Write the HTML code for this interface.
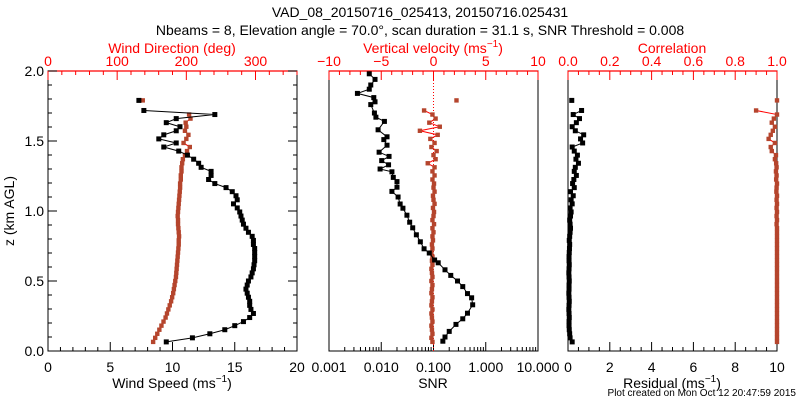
<!DOCTYPE html>
<html><head><meta charset="utf-8">
<style>
html,body{margin:0;padding:0;background:#fff;}
svg{display:block;font-family:"Liberation Sans",sans-serif;}
</style></head>
<body>
<svg id="chart" width="800" height="400" viewBox="0 0 800 400">
<text x="420" y="17" font-size="14" text-anchor="middle">VAD_08_20150716_025413, 20150716.025431</text>
<text x="420" y="35" font-size="14" text-anchor="middle">Nbeams = 8, Elevation angle = 70.0°, scan duration = 31.1 s, SNR Threshold = 0.008</text>
<text x="14" y="211" font-size="14" text-anchor="middle" transform="rotate(-90 14 211)">z (km AGL)</text>
<text x="796" y="396" font-size="10" text-anchor="end">Plot created on Mon Oct 12 20:47:59 2015</text>
<g id="g"></g>
</svg>
<script>
// common height grid (km) for wind/w/residual/correlation
const zGrid = [0.065,0.094,0.123,0.152,0.181,0.21,0.239,0.268,0.297,0.326,0.355,0.384,0.413,0.442,0.471,0.5,0.529,0.558,0.587,0.616,0.645,0.674,0.703,0.732,0.761,0.79,0.819,0.848,0.877,0.906,0.935,0.964,0.993,1.022,1.051,1.08,1.109,1.138,1.167,1.196,1.225,1.254,1.283,1.312,1.341,1.37,1.399,1.428,1.457,1.486,1.515,1.544,1.573,1.602,1.631,1.66,1.689,1.718,1.747,1.776,1.79];
const windSpeed = [9.5,11.6,13.0,14.2,15.0,15.7,16.2,16.5,16.3,16.2,16.2,16.1,16.0,15.9,16.0,16.1,16.3,16.4,16.5,16.55,16.6,16.6,16.6,16.6,16.5,16.5,16.4,16.1,15.9,15.7,15.6,15.5,15.4,15.2,14.9,15.2,15.1,14.8,14.3,13.4,12.9,13.1,13.1,12.3,12.1,11.7,11.2,10.5,9.3,10.3,8.9,9.3,10.3,10.6,9.5,10.3,13.4,7.7,null,null,7.3];
const windDir = [152,155,158,161,164,167,170,172,174,176,178,179.5,181,182,183,184,185,185.5,186,186.5,187,187.5,188,188.5,189,189,189.5,189,188.5,188,188,187.5,188,188.5,189,189.5,190,190.5,191,191,192,192,193,193,194,195,198,201,205,196,200,203,198,200,199,206,204,null,null,null,137];
const wVel = [-0.1,-0.2,-0.1,-0.15,-0.2,-0.1,-0.15,-0.2,-0.1,-0.2,-0.15,-0.1,-0.2,-0.15,-0.1,-0.2,-0.1,-0.15,-0.2,-0.1,-0.15,-0.1,-0.2,-0.1,-0.15,-0.05,-0.1,0,-0.1,0.05,-0.1,0,0.05,-0.05,0.1,0,-0.05,0.1,0,0.05,-0.1,0.1,-0.1,0.1,-0.55,0.2,0,0.3,-0.2,0.1,-0.3,0.4,-1.3,0.6,-0.4,0.2,-0.1,-0.9,null,null,2.2];
const residual = [0.2,0.1,0.08,0.06,0.05,0.05,0.06,0.05,0.04,0.05,0.06,0.05,0.04,0.05,0.05,0.06,0.05,0.04,0.05,0.06,0.05,0.05,0.06,0.07,0.08,0.06,0.08,0.1,0.12,0.1,0.08,0.12,0.15,0.1,0.2,0.15,0.25,0.12,0.3,0.22,0.28,0.4,0.3,0.35,0.5,0.38,0.45,0.3,0.2,0.7,0.6,0.75,0.35,0.2,0.4,0.55,0.25,0.65,null,null,0.18];
const correlation = [1,1,1,1,1,1,1,1,1,1,1,1,1,1,1,1,1,1,1,1,1,1,1,1,1,1,1,1,1,0.998,1,0.998,1,0.998,1,0.998,1,0.997,0.998,1,0.996,0.998,0.995,0.998,0.996,0.99,0.995,0.975,0.97,0.99,0.96,0.97,0.98,0.99,0.975,0.985,1,0.9,null,null,1];
// SNR profile
const snrZ = [0.07,0.10,0.14,0.19,0.23,0.27,0.33,0.38,0.41,0.46,0.50,0.54,0.58,0.63,0.65,0.70,0.73,0.78,0.83,0.88,0.92,0.97,1.02,1.05,1.10,1.14,1.17,1.21,1.24,1.28,1.30,1.33,1.36,1.39,1.42,1.47,1.51,1.53,1.58,1.64,1.67,1.70,1.76,1.78,1.81,1.84,1.87,1.90,1.94,1.98];
const snr = [0.151,0.166,0.2,0.269,0.363,0.447,0.562,0.537,0.447,0.363,0.288,0.214,0.166,0.123,0.105,0.083,0.066,0.056,0.047,0.040,0.035,0.031,0.026,0.023,0.021,0.016,0.020,0.020,0.017,0.016,0.0095,0.0138,0.0102,0.0141,0.0091,0.0129,0.0112,0.0129,0.0087,0.0115,0.0079,0.0074,0.0063,0.0076,0.0072,0.0035,0.0059,0.0063,0.0076,0.0059];
// tick labels
const zTicks = ["0.0","0.5","1.0","1.5","2.0"];
const speedTicks = ["0","5","10","15","20"];
const dirTicks = ["0","100","200","300"];
const snrTicks = ["0.001","0.010","0.100","1.000","10.000"];
const wTicks = ["−10","−5","0","5","10"];
const resTicks = ["0","2","4","6","8","10"];
const corrTicks = ["0.0","0.2","0.4","0.6","0.8","1.0"];

const NS="http://www.w3.org/2000/svg";
const G=document.getElementById('g');
const TOP=71, BOT=351;
const RED="#ff0000", MRK="#b5452d";
function el(tag,attrs,parent){const e=document.createElementNS(NS,tag);for(const k in attrs)e.setAttribute(k,attrs[k]);(parent||G).appendChild(e);return e;}
const yz = z => BOT-(z/2)*(BOT-TOP);
function lin(a,b,x0,x1){return v=>x0+(v-a)/(b-a)*(x1-x0);}
function logs(a,b,x0,x1){return v=>x0+(Math.log10(v)-Math.log10(a))/(Math.log10(b)-Math.log10(a))*(x1-x0);}

function frame(x0,x1,name,yTicksOn){
  const f=el('rect',{x:x0,y:TOP,width:x1-x0,height:BOT-TOP,fill:'none',stroke:'#000','stroke-width':1});
  
  
  const top=el('line',{x1:x0,x2:x1,y1:TOP,y2:TOP,stroke:RED,'stroke-width':1.3});
  
  
  if(yTicksOn){
    for(let i=0;i<=20;i++){const z=i*0.1,y=yz(z),L=(i%5==0)?9:4;
      el('line',{x1:x0,x2:x0+L,y1:y,y2:y,stroke:'#000'});
      el('line',{x1:x1,x2:x1-L,y1:y,y2:y,stroke:'#000'});}
    zTicks.forEach((t,i)=>{const tx=el('text',{x:x0-4,y:yz(i*0.5)+5,'font-size':14,'text-anchor':'end'});tx.textContent=t;
      
      });
  }
}
function linTicks(x0,x1,a,b,major,minor,labels,top,color,name){
  const sx=lin(a,b,x0,x1),y=top?TOP:BOT,d=top?1:-1;
  const n=Math.round((b-a)/minor);
  for(let i=0;i<=n;i++){const v=a+i*minor;const isM=Math.abs(((v-a)/major)-Math.round((v-a)/major))<1e-6;
    el('line',{x1:sx(v),x2:sx(v),y1:y,y2:y+d*(isM?9:4),stroke:color});}
  labels.forEach((t,i)=>{const tx=el('text',{x:sx(a+i*major),y:top?TOP-5:BOT+21,'font-size':14,'text-anchor':'middle',fill:color});tx.textContent=t;
    
    });
}
function series(sx,zs,vals,color,lineColor,name,r){
  let seg=[];const segs=[];
  vals.forEach((v,i)=>{if(v===null){if(seg.length)segs.push(seg);seg=[];}else seg.push([sx(v),yz(zs[i])]);});
  if(seg.length)segs.push(seg);
  segs.forEach(s=>{if(s.length>1){const p=el('polyline',{points:s.map(q=>q.join(',')).join(' '),fill:'none',stroke:lineColor,'stroke-width':1});
    
    }});
  vals.forEach((v,i)=>{if(v===null)return;const c=el('rect',{x:sx(v)-r,y:yz(zs[i])-r,width:2*r,height:2*r,fill:color});
    
    });
}
function title(x,y,txt,color,name,sup){
  const t=el('text',{x:x,y:y,'font-size':14,'text-anchor':'middle',fill:color});
  
  
  t.appendChild(document.createTextNode(txt));
  if(sup){const s=el('tspan',{'font-size':10,dy:-6},t);s.textContent=sup;const e=el('tspan',{dy:6},t);e.textContent=')';}
}

// Panel 1
const P1=[48,297];
frame(P1[0],P1[1],'wind-panel',true);
linTicks(P1[0],P1[1],0,20,5,1,speedTicks,false,'#000','wind-speed');
linTicks(P1[0],P1[1],0,360,100,20,dirTicks,true,RED,'wind-direction');
title(172,388,'Wind Speed (ms','#000','wind-speed-axis-title','−1');
title(172,53,'Wind Direction (deg)',RED,'wind-direction-axis-title');
series(lin(0,360,P1[0],P1[1]),zGrid,windDir,MRK,RED,'wind-direction',2.2);
series(lin(0,20,P1[0],P1[1]),zGrid,windSpeed,'#000','#000','wind-speed',2.5);

// Panel 2
const P2=[329,538];
frame(P2[0],P2[1],'snr-panel',false);
(function(){const sx=logs(0.001,10,P2[0],P2[1]);
  for(let e=-3;e<1;e++)for(let m=1;m<10;m++){const v=m*Math.pow(10,e);el('line',{x1:sx(v),x2:sx(v),y1:BOT,y2:BOT-(m==1?9:4),stroke:'#000'});}
  el('line',{x1:sx(10),x2:sx(10),y1:BOT,y2:BOT-9,stroke:'#000'});
  snrTicks.forEach((t,i)=>{const tx=el('text',{x:sx(Math.pow(10,i-3)),y:BOT+21,'font-size':14,'text-anchor':'middle'});tx.textContent=t;
    
    });
})();
linTicks(P2[0],P2[1],-10,10,5,1,wTicks,true,RED,'vertical-velocity');
(function(){const sx=lin(-10,10,P2[0],P2[1]);const l=el('line',{x1:sx(0),x2:sx(0),y1:TOP,y2:BOT,stroke:RED,'stroke-dasharray':'1,2'});
  
  })();
title(433,388,'SNR','#000','snr-axis-title');
title(433,53,'Vertical velocity (ms',RED,'vertical-velocity-axis-title','−1');
series(lin(-10,10,P2[0],P2[1]),zGrid,wVel,MRK,RED,'vertical-velocity',2.2);
series(logs(0.001,10,P2[0],P2[1]),snrZ,snr,'#000','#000','snr',2.5);

// Panel 3
const P3=[568,777];
frame(P3[0],P3[1],'residual-panel',false);
linTicks(P3[0],P3[1],0,10,2,0.5,resTicks,false,'#000','residual');
linTicks(P3[0],P3[1],0,1,0.2,0.05,corrTicks,true,RED,'correlation');
title(672,388,'Residual (ms','#000','residual-axis-title','−1');
title(672,53,'Correlation',RED,'correlation-axis-title');
series(lin(0,1,P3[0],P3[1]),zGrid,correlation,MRK,RED,'correlation',2.2);
series(lin(0,10,P3[0],P3[1]),zGrid,residual,'#000','#000','residual',2.5);
</script>
</body></html>
